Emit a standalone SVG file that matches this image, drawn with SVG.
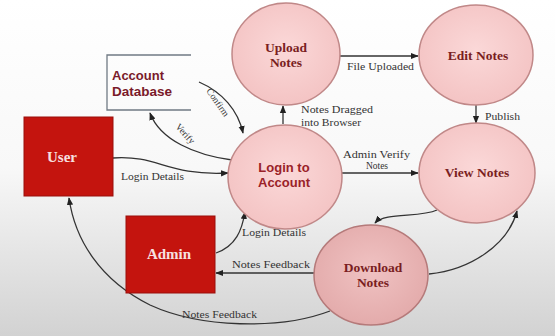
<svg xmlns="http://www.w3.org/2000/svg" width="555" height="336" viewBox="0 0 555 336">
<defs>
<linearGradient id="bg" x1="0" y1="0" x2="0" y2="1">
<stop offset="0" stop-color="#ffffff"/>
<stop offset="0.5" stop-color="#f8f8f8"/>
<stop offset="1" stop-color="#d2d2d2"/>
</linearGradient>
<radialGradient id="pink" cx="0.5" cy="0.45" r="0.6">
<stop offset="0" stop-color="#fbd8d8"/>
<stop offset="1" stop-color="#f3c2c2"/>
</radialGradient>
<radialGradient id="pink2" cx="0.5" cy="0.45" r="0.6">
<stop offset="0" stop-color="#f0c2c2"/>
<stop offset="1" stop-color="#e2a9a9"/>
</radialGradient>
<marker id="arr" viewBox="0 0 10 10" refX="9" refY="5" markerWidth="6" markerHeight="6" orient="auto-start-reverse">
<path d="M0,1 L10,5 L0,9 z" fill="#222"/>
</marker>
</defs>
<style>
.proc{fill:url(#pink);stroke:#c08888;stroke-width:1.5}
.proc2{fill:url(#pink2);stroke:#b57a7a;stroke-width:1.5}
.ptxt{font-family:"Liberation Serif","Times New Roman",serif;font-weight:bold;font-size:13.5px;fill:#7a1e22;text-anchor:middle}
.stxt{font-family:"Liberation Sans",Arial,sans-serif;font-weight:bold;font-size:13px;fill:#9a2228;text-anchor:middle}
.dtxt{font-family:"Liberation Sans",Arial,sans-serif;font-weight:bold;font-size:12.5px;fill:#7a1a2a}
.ent{fill:#c4140e;stroke:#9a0e0a;stroke-width:1}
.etxt{font-family:"Liberation Serif","Times New Roman",serif;font-weight:bold;font-size:15px;fill:#f7e0e0;text-anchor:middle}
.lbl{font-family:"Liberation Serif","Times New Roman",serif;font-size:9.5px;fill:#333}
.con{fill:none;stroke:#333;stroke-width:1.3;marker-end:url(#arr)}
.store{fill:none;stroke:#707a84;stroke-width:1.3}
</style>
<rect x="0" y="0" width="555" height="336" fill="url(#bg)"/>

<g id="connectors">
<path class="con" d="M340,56 L418,56"/>
<path class="con" d="M476,105 L476,123"/>
<path class="con" d="M283,124 L283,106"/>
<path class="con" d="M342,173 L418,173"/>
<path class="con" d="M113,158 C160,155 165,176 228,173"/>
<path class="con" d="M199,82 C222,92 238,110 243,133"/>
<path class="con" d="M232,160 C195,155 160,140 150,113"/>
<path class="con" d="M216,253 C236,246 242,230 245,212"/>
<path class="con" d="M315,273 L216,273"/>
<path class="con" d="M330,311 C280,330 200,328 150,305 C100,280 75,240 69,198"/>
<path class="con" d="M437,210 C420,218 385,212 375,223"/>
<path class="con" d="M429,274 C470,270 508,245 517,211"/>
<text class="lbl" x="347" y="70" textLength="67" lengthAdjust="spacingAndGlyphs">File Uploaded</text>
<text class="lbl" x="485" y="120" textLength="35" lengthAdjust="spacingAndGlyphs">Publish</text>
<text class="lbl" x="301" y="113" textLength="72" lengthAdjust="spacingAndGlyphs">Notes Dragged</text>
<text class="lbl" x="301" y="126" textLength="60" lengthAdjust="spacingAndGlyphs">into Browser</text>
<text class="lbl" x="343" y="158" textLength="67" lengthAdjust="spacingAndGlyphs">Admin Verify</text>
<text class="lbl" x="377" y="169" text-anchor="middle">Notes</text>
<text class="lbl" x="121" y="180" textLength="63" lengthAdjust="spacingAndGlyphs">Login Details</text>
<text class="lbl" x="0" y="0" transform="translate(206,91) rotate(55)">Confirm</text>
<text class="lbl" x="0" y="0" transform="translate(175,127) rotate(48)">Verify</text>
<text class="lbl" x="242" y="236" textLength="64" lengthAdjust="spacingAndGlyphs">Login Details</text>
<text class="lbl" x="232" y="268" textLength="78" lengthAdjust="spacingAndGlyphs">Notes Feedback</text>
<text class="lbl" x="182" y="318" textLength="75" lengthAdjust="spacingAndGlyphs">Notes Feedback</text>
</g>

<g id="upload">
<ellipse class="proc" cx="286" cy="54" rx="54" ry="51"/>
<text class="ptxt" x="286" y="52">Upload</text>
<text class="ptxt" x="286" y="67">Notes</text>
</g>
<g id="edit">
<ellipse class="proc" cx="476" cy="55" rx="57" ry="50"/>
<text class="ptxt" x="478" y="60">Edit Notes</text>
</g>
<g id="view">
<ellipse class="proc" cx="477" cy="173" rx="58" ry="50"/>
<text class="ptxt" x="477" y="177">View Notes</text>
</g>
<g id="login">
<ellipse class="proc" cx="285" cy="177" rx="57" ry="52"/>
<text class="stxt" x="284" y="172">Login to</text>
<text class="stxt" x="284" y="187">Account</text>
</g>
<g id="download">
<ellipse class="proc2" cx="371" cy="275" rx="57" ry="50"/>
<text class="ptxt" x="373" y="272">Download</text>
<text class="ptxt" x="373" y="287">Notes</text>
</g>
<g id="accountdb">
<path class="store" d="M191,55 L107,55 L107,110 L191,110"/>
<text class="dtxt" x="112" y="80" textLength="52" lengthAdjust="spacingAndGlyphs">Account</text>
<text class="dtxt" x="112" y="96" textLength="60" lengthAdjust="spacingAndGlyphs">Database</text>
</g>
<g id="user">
<rect class="ent" x="24" y="117" width="89" height="79"/>
<text class="etxt" x="62" y="162">User</text>
</g>
<g id="admin">
<rect class="ent" x="126" y="216" width="89" height="77"/>
<text class="etxt" x="169" y="259">Admin</text>
</g>
</svg>
